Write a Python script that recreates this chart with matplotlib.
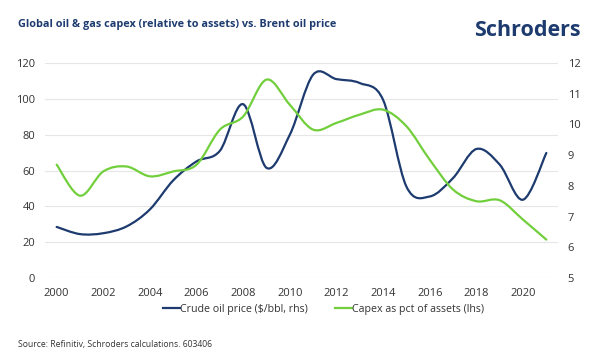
import matplotlib
matplotlib.use("Agg")
import matplotlib.pyplot as plt
import numpy as np
from matplotlib.path import Path
from matplotlib.patches import PathPatch
from matplotlib.lines import Line2D

years = list(range(2000, 2022))
crude_oil = [28.5, 24.5, 25.0, 28.8, 38.3, 54.5, 65.1, 71.0, 97.0, 61.5,
             80.0, 113.5, 111.0, 108.8, 99.4, 51.0, 45.5, 55.8, 72.0, 63.3,
             43.7, 69.8]
capex_pct = [8.69, 7.68, 8.47, 8.63, 8.31, 8.47, 8.69, 9.83, 10.26, 11.46,
             10.64, 9.83, 10.05, 10.32, 10.48, 9.94, 8.85, 7.88, 7.50, 7.53,
             6.90, 6.25]

NAVY = "#1d3b6f"
GREEN = "#72cf3c"
TEXT = "#333333"
plt.rcParams['font.family'] = ['Open Sans', 'DejaVu Sans']


def smooth_path(x, y):
    # Excel-style smoothed line drawn as cubic bezier segments
    x = np.asarray(x, float)
    y = np.asarray(y, float)
    xp = np.concatenate([[x[0]], x, [x[-1]]])
    yp = np.concatenate([[y[0]], y, [y[-1]]])
    verts = [(x[0], y[0])]
    codes = [Path.MOVETO]
    for i in range(1, len(x)):
        p0x, p0y = xp[i - 1], yp[i - 1]
        p1x, p1y = xp[i], yp[i]
        p2x, p2y = xp[i + 1], yp[i + 1]
        p3x, p3y = xp[i + 2], yp[i + 2]
        verts += [(p1x + (p2x - p0x) / 6, p1y + (p2y - p0y) / 6),
                  (p2x - (p3x - p1x) / 6, p2y - (p3y - p1y) / 6),
                  (p2x, p2y)]
        codes += [Path.CURVE4] * 3
    return Path(verts, codes)


fig = plt.figure(figsize=(6, 3.54), dpi=100)
ax = fig.add_axes([0.075, 0.2147, 0.855, 0.6073])
ax2 = ax.twinx()

ax.set_xlim(1999.5, 2021.5)
ax.set_ylim(0, 120)
ax2.set_ylim(5, 12)
ax.set_yticks(range(0, 121, 20))
ax2.set_yticks(range(5, 13))
ax.set_xticks(range(2000, 2021, 2))
ax.grid(axis='y', color='#e6e6e6', linewidth=0.8)
ax.set_axisbelow(True)

for a in (ax, ax2):
    for s in a.spines.values():
        s.set_visible(False)
    a.tick_params(length=0, labelsize=8, labelcolor=TEXT)
ax.tick_params(axis='y', pad=7)
ax2.tick_params(axis='y', pad=7)
ax.tick_params(axis='x', pad=7)

ax.add_patch(PathPatch(smooth_path(years, crude_oil), facecolor='none',
                       edgecolor=NAVY, linewidth=1.6, capstyle='round'))
ax2.add_patch(PathPatch(smooth_path(years, capex_pct), facecolor='none',
                        edgecolor=GREEN, linewidth=1.6, capstyle='round'))

handles = [Line2D([], [], color=NAVY, linewidth=1.6),
           Line2D([], [], color=GREEN, linewidth=1.6)]
fig.legend(handles, ["Crude oil price ($/bbl, rhs)", "Capex as pct of assets (lhs)"],
           loc='center', bbox_to_anchor=(0.539, 0.127), ncol=2, frameon=False,
           fontsize=7.7, handlelength=1.6, handletextpad=0.0, columnspacing=2.5,
           labelcolor=TEXT, borderpad=0)

fig.text(0.03, 0.932, "Global oil & gas capex (relative to assets) vs. Brent oil price",
         fontsize=7.8, fontweight='bold', color=NAVY, va='center', ha='left')
fig.text(0.968, 0.915, "Schroders", fontsize=15.5, fontweight='bold', color=NAVY,
         va='center', ha='right')
fig.text(0.03, 0.028, "Source: Refinitiv, Schroders calculations. 603406",
         fontsize=6.2, color=TEXT, va='center', ha='left')

fig.savefig("out.png", dpi=100)
